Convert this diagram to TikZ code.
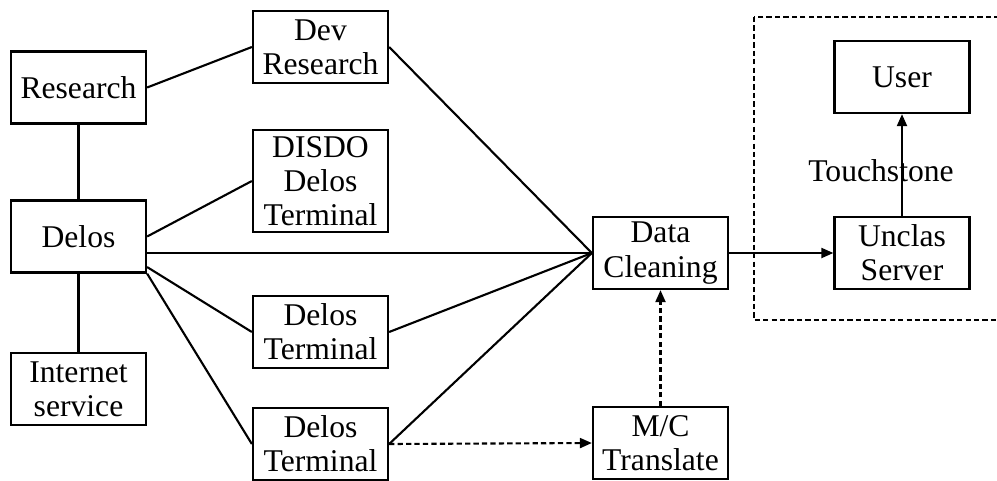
\documentclass[tikz,border=0pt]{standalone}
\usepackage{fontspec}
\setmainfont{Liberation Serif}
\usetikzlibrary{arrows.meta,calc}
\begin{document}
\begin{tikzpicture}[box/.style={draw,line width=1.3pt,minimum width=2.7cm,minimum height=1.44cm,align=center,inner sep=1pt,font=\fontsize{18}{19.5}\selectfont},
        link/.style={line width=1.2pt},
        flow/.style={line width=1.2pt,-{Triangle[length=0.24cm,width=0.2cm]}},
        dflow/.style={flow,dash pattern=on 3pt off 1.8pt}]
        \useasboundingbox (0, 0) rectangle (19.94, 9.6);
        \clip (0, 0) rectangle (19.94, 9.6);

        % Quellen
        \node[box] (research) at (1.57, 7.85) {Research};
        \node[box] (delos) at (1.57, 4.87) {Delos};
        \node[box] (internet) at (1.57, 1.82) {Internet\\service};

        % Terminals
        \node[box] (devres) at (6.41, 8.66) {Dev\\Research};
        \node[box, minimum height=2.04cm] (disdo) at (6.41, 5.98) {DISDO\\Delos\\Terminal};
        \node[box] (term1) at (6.41, 2.96) {Delos\\Terminal};
        \node[box] (term2) at (6.41, 0.72) {Delos\\Terminal};

        % Verarbeitung
        \node[box] (clean) at (13.21, 4.54) {Data\\Cleaning};
        \node[box] (mctrans) at (13.21, 0.74) {M/C\\Translate};

        % Ausgabe
        \draw[dash pattern=on 3pt off 1.8pt, line width=1.2pt] (15.08, 9.26) rectangle (20.5, 3.2);
        \node[box] (unclas) at (18.04, 4.54) {Unclas\\Server};
        \node[box] (user) at (18.04, 8.06) {User};
        \node[font=\fontsize{18}{19.5}\selectfont] (touch) at (17.62, 6.18) {Touchstone};

        % Verbindungen
        \draw[link] (research) -- (delos);
        \draw[link] (delos) -- (internet);
        \draw[link] (research.east) -- (devres.west);
        \draw[link] (delos.east) -- (disdo.west);
        \draw[link] (delos.east |- clean.west) -- (clean.west);
        \draw[link] (delos.-24) -- (term1.west);
        \draw[link] (delos.south east) -- (term2.west);
        \draw[link] (devres.east) -- (clean.west);
        \draw[link] (term1.east) -- (clean.west);
        \draw[link] (term2.east) -- (clean.west);
        \draw[dflow] (term2.east) -- (mctrans.west);
        \draw[dflow] (mctrans.north) -- (clean.south);
        \draw[flow] (clean.east) -- (unclas.west);
        \draw[flow] (unclas.north) -- (user.south);
    \end{tikzpicture}
\end{document}
